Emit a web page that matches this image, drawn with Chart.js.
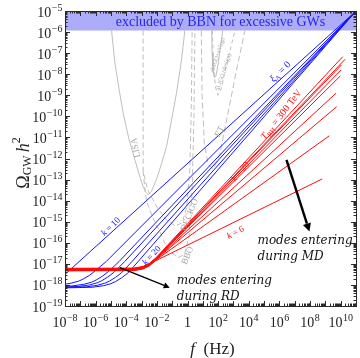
<!DOCTYPE html>
<html>
<head>
<meta charset="utf-8">
<script src="https://cdn.jsdelivr.net/npm/chart.js@4.4.0/dist/chart.umd.min.js"></script>
<style>
  html, body { margin: 0; padding: 0; background: #fff; }
</style>
</head>
<body>
<canvas id="c" width="360" height="358"></canvas>
<script>
// all points are [log10(f / Hz), log10(Omega_GW h^2)]
const xTickExps = [-8, -6, -4, -2, 0, 2, 4, 6, 8, 10];
const yTickExps = [-19, -18, -17, -16, -15, -14, -13, -12, -11, -10, -9, -8, -7, -6, -5];

// BBN bound (lower edge of the shaded band)
const bbnBound = [[-8, -5.93], [11, -5.93]];

// blue: xi_Lambda = 0, k = 10 ... 20
const blueK10 = [[-8, -17.5], [11, -5]];
const blueK12 = [[-8, -17.965], [-7.61, -17.92], [-7.11, -17.82], [-6.81, -17.72], [-6.41, -17.55], [-6.01, -17.32], [-5.31, -16.89], [11, -5]];
const blueK14 = [[-8, -18.07], [-7.47, -18.04], [-6.77, -17.97], [-6.27, -17.87], [-5.97, -17.77], [-5.57, -17.59], [-5.17, -17.37], [-4.47, -16.89], [11, -5]];
const blueK16 = [[-8, -18.10], [-7.1, -18.07], [-6.4, -18.0], [-5.9, -17.9], [-5.6, -17.8], [-5.2, -17.62], [-4.8, -17.40], [-4.1, -16.89], [11, -5]];
const blueK18 = [[-8, -18.12], [-6.6, -18.09], [-5.9, -18.02], [-5.4, -17.92], [-5.1, -17.82], [-4.7, -17.64], [-4.3, -17.42], [-3.6, -16.87], [11, -5]];
const blueK20 = [[-8, -18.14], [-6.2, -18.11], [-5.5, -18.04], [-5.0, -17.94], [-4.7, -17.84], [-4.3, -17.66], [-3.9, -17.44], [-3.2, -16.87], [11, -5]];

// red: T_RH = 300 TeV, k = 20 ... 6
const redK20 = [[-8, -17.21], [-3.5, -17.20], [-2.9, -17.12], [-2.5, -16.98], [-2.1, -16.74], [10.13, -7.17]];
const redK18 = [[-8, -17.23], [-3.5, -17.22], [-2.9, -17.14], [-2.5, -17.0], [-2.1, -16.76], [10.29, -7.29]];
const redK16 = [[-8, -17.24], [-3.5, -17.23], [-2.9, -17.15], [-2.5, -17.01], [-2.1, -16.77], [10.05, -7.56]];
const redK14 = [[-8, -17.26], [-3.5, -17.25], [-2.9, -17.17], [-2.5, -17.02], [-2.1, -16.78], [10.03, -7.80]];
const redK12 = [[-8, -17.27], [-3.5, -17.26], [-2.9, -17.18], [-2.5, -17.03], [-2.1, -16.79], [9.98, -8.08]];
const redK10 = [[-8, -17.29], [-3.5, -17.28], [-2.9, -17.2], [-2.5, -17.05], [-2.1, -16.81], [9.70, -8.90]];
const redK9 = [[-8, -17.30], [-3.5, -17.29], [-2.9, -17.21], [-2.5, -17.06], [-2.1, -16.82], [9.74, -9.54]];
const redK8 = [[-8, -17.32], [-3.5, -17.31], [-2.9, -17.23], [-2.5, -17.08], [-2.1, -16.84], [9.26, -10.92]];
const redK6 = [[-8, -17.33], [-3.5, -17.32], [-2.9, -17.24], [-2.5, -17.1], [-2.1, -16.86], [8.79, -12.97]];

// detector sensitivity curves
const lisa = [[-4.96, -5.93], [-4.74, -7.48], [-4.45, -8.8], [-4.2, -9.85], [-3.85, -11.0], [-3.44, -12.06], [-3.1, -12.9], [-2.9, -13.33], [-2.72, -13.6], [-2.57, -13.72], [-2.35, -13.55], [-2.03, -13.0], [-1.7, -12.25], [-1.37, -11.43], [-1.05, -10.2], [-0.72, -8.9], [-0.45, -7.6], [-0.29, -6.69], [-0.18, -5.93]];
const decigo = [[-2.9, -5.93], [-2.9, -12.6], [-2.6, -13.5], [-2.0, -14.3], [-1.4, -14.9], [-0.8, -15.2], [-0.35, -15.05], [-0.05, -14.3], [0.15, -12.5], [0.25, -9.5], [0.3, -5.93]];
const bbo = [[-2.9, -12.6], [-2.75, -13.7], [-2.59, -14.19], [-2.27, -14.81], [-1.81, -15.47], [-1.49, -16.0], [-1.1, -16.45], [-0.6, -16.7], [-0.2, -16.55], [0.1, -15.7], [0.3, -13.5], [0.42, -10], [0.48, -5.93]];
const et = [[0.9, -5.93], [0.95, -9.0], [1.1, -11.3], [1.35, -12.3], [1.7, -12.5], [2.1, -11.8], [2.6, -10.0], [3.2, -7.8], [3.75, -5.93]];
const aligoVirgo = [[1.58, -5.93], [1.6, -7.0], [1.66, -7.8], [1.75, -8.15], [1.85, -8.1], [1.98, -7.6], [2.15, -6.7], [2.3, -5.93]];
const aligoDesign = [[1.62, -5.93], [1.7, -7.6], [1.82, -8.6], [1.98, -9.0], [2.2, -8.7], [2.5, -7.7], [2.9, -6.5], [3.1, -5.93]];

const BLUE = 'rgb(20,20,255)';
const RED = 'rgb(255,10,10)';
const GRAY = 'rgb(190,190,190)';

const pts = arr => arr.map(p => ({ x: Math.pow(10, p[0]), y: Math.pow(10, p[1]) }));

function curve(arr, color, order, dash) {
    return {
        data: pts(arr),
        showLine: true,
        borderColor: color,
        borderWidth: 1,
        borderDash: dash || [],
        pointRadius: 0,
        fill: false,
        tension: 0,
        order: order
    };
}

const datasets = [];
[redK20, redK18, redK16, redK14, redK12, redK10, redK9, redK8, redK6].forEach(a => datasets.push(curve(a, RED, 0)));
[blueK10, blueK12, blueK14, blueK16, blueK18, blueK20].forEach(a => datasets.push(curve(a, BLUE, 1)));
datasets.push({
    data: pts(bbnBound), showLine: true, borderWidth: 0, pointRadius: 0,
    fill: 'end', backgroundColor: 'rgb(172,172,250)', order: 2
});
datasets.push(curve(lisa, GRAY, 3));
datasets.push(curve(decigo, GRAY, 3, [5, 3]));
datasets.push(curve(bbo, GRAY, 3, [5, 3]));
datasets.push(curve(et, GRAY, 3, [6, 3]));
datasets.push(curve(aligoVirgo, GRAY, 3));
datasets.push(curve(aligoDesign, GRAY, 3, [4, 3]));

// text labels: [parts, logf, logOmega, rotation deg, color]
const SERIF = '"Liberation Serif", "DejaVu Serif", serif';
const curveLabels = [
    [[['LISA', 9]], -3.37, -11.49, -102, 'rgb(165,165,165)'],
    [[['DECIGO', 9]], 0.14, -14.67, -68, 'rgb(165,165,165)'],
    [[['BBO', 9]], 0.01, -16.61, -68, 'rgb(165,165,165)'],
    [[['ET', 9]], 2.1, -10.73, -62, 'rgb(165,165,165)'],
    [[['aLIGO+aVirgo', 6]], 1.97, -7.09, -72, 'rgb(165,165,165)'],
    [[['aLIGO (design)', 6]], 2.36, -7.89, -72, 'rgb(165,165,165)'],
    [[['k', 9, 'italic'], [' = 10', 9]], -5.0, -15.24, -44, BLUE],
    [[['k', 9, 'italic'], [' = 20', 9]], -2.33, -16.61, -47, BLUE],
    [[['\u03be', 10, 'italic'], ['\u039b', 7, '', 3], [' = 0', 10]], 6.07, -7.89, -45, BLUE],
    [[['T', 10, 'italic'], ['RH', 7, '', 3], [' = 300 TeV', 10]], 6.14, -9.93, -52, RED],
    [[['k', 9, 'italic'], [' = 20', 9]], 3.47, -12.63, -50, RED],
    [[['k', 9, 'italic'], [' = 6', 9]], 3.14, -15.52, -28, RED]
];

const notes = [
    ['modes entering', 4.57, -16.04],
    ['during MD', 4.57, -16.80],
    ['modes entering', -0.70, -17.94],
    ['during RD', -0.70, -18.70]
];
const arrows = [
    [[-4.42, -17.18], [-1.16, -18.13], 1.4],
    [[6.46, -12.06], [7.96, -15.47], 2.4]
];

function richWidth(ctx, parts) {
    let w = 0;
    parts.forEach(p => { ctx.font = (p[2] || '') + ' ' + p[1] + 'px ' + SERIF; w += ctx.measureText(p[0]).width; });
    return w;
}
function drawRich(ctx, parts, x, y, rot, color) {
    ctx.save();
    ctx.translate(x, y);
    ctx.rotate(rot * Math.PI / 180);
    ctx.fillStyle = color;
    ctx.textBaseline = 'middle';
    ctx.textAlign = 'left';
    let cx = -richWidth(ctx, parts) / 2;
    parts.forEach(p => {
        ctx.font = (p[2] || '') + ' ' + p[1] + 'px ' + SERIF;
        ctx.fillText(p[0], cx, p[3] || 0);
        cx += ctx.measureText(p[0]).width;
    });
    ctx.restore();
}
function powLabel(ctx, e, x, yBase, align) {
    ctx.textAlign = 'left';
    ctx.textBaseline = 'alphabetic';
    ctx.fillStyle = '#222';
    if (e === 0) {
        ctx.font = '14px ' + SERIF;
        const w1 = ctx.measureText('1').width;
        ctx.fillText('1', align === 'right' ? x - w1 : x - w1 / 2, yBase);
        return;
    }
    const sup = e < 0 ? '\u2212' + (-e) : String(e);
    ctx.font = '14px ' + SERIF;
    const wb = ctx.measureText('10').width;
    ctx.font = '10px ' + SERIF;
    const ws = ctx.measureText(sup).width;
    const w = wb + ws + 0.5;
    const x0 = align === 'right' ? x - w : x - w / 2;
    ctx.font = '14px ' + SERIF;
    ctx.fillText('10', x0, yBase);
    ctx.font = '10px ' + SERIF;
    ctx.fillText(sup, x0 + wb + 0.5, yBase - 6);
}

const decor = {
    id: 'decor',
    afterDraw(chart) {
        const ctx = chart.ctx, xs = chart.scales.x, ys = chart.scales.y, a = chart.chartArea;
        const px = l => xs.getPixelForValue(Math.pow(10, l));
        const py = m => ys.getPixelForValue(Math.pow(10, m));

        // BBN text
        ctx.save();
        ctx.fillStyle = 'rgb(40,40,225)';
        ctx.font = '14px ' + SERIF;
        ctx.textAlign = 'center';
        ctx.textBaseline = 'alphabetic';
        ctx.fillText('excluded by BBN for excessive GWs', (a.left + a.right) / 2 + 10, a.top + 15);
        ctx.restore();

        curveLabels.forEach(c => drawRich(ctx, c[0], px(c[1]), py(c[2]), c[3], c[4]));

        // annotations
        ctx.save();
        ctx.fillStyle = '#111';
        ctx.font = 'italic 12px "DejaVu Serif", serif';
        ctx.textAlign = 'left';
        ctx.textBaseline = 'alphabetic';
        notes.forEach(n => ctx.fillText(n[0], px(n[1]), py(n[2])));
        arrows.forEach(ar => {
            const x1 = px(ar[0][0]), y1 = py(ar[0][1]), x2 = px(ar[1][0]), y2 = py(ar[1][1]);
            const ang = Math.atan2(y2 - y1, x2 - x1), hl = 3 + ar[2] * 2.2, hw = 1.5 + ar[2] * 1.1;
            ctx.strokeStyle = '#000';
            ctx.lineWidth = ar[2];
            ctx.beginPath();
            ctx.moveTo(x1, y1);
            ctx.lineTo(x2 - hl * Math.cos(ang), y2 - hl * Math.sin(ang));
            ctx.stroke();
            ctx.beginPath();
            ctx.moveTo(x2, y2);
            ctx.lineTo(x2 - hl * Math.cos(ang) + hw * Math.sin(ang), y2 - hl * Math.sin(ang) - hw * Math.cos(ang));
            ctx.lineTo(x2 - hl * Math.cos(ang) - hw * Math.sin(ang), y2 - hl * Math.sin(ang) + hw * Math.cos(ang));
            ctx.closePath();
            ctx.fillStyle = '#000';
            ctx.fill();
        });
        ctx.restore();

        // frame and ticks
        ctx.save();
        ctx.strokeStyle = '#2a2a2a';
        ctx.lineWidth = 1;
        ctx.strokeRect(Math.round(a.left) + 0.5, Math.round(a.top) + 0.5, Math.round(a.right - a.left), Math.round(a.bottom - a.top));
        ctx.beginPath();
        for (let e = -8; e <= 11; e++) {
            for (let m = 1; m <= 9; m++) {
                const v = m * Math.pow(10, e);
                if (v > 1.0001e11) break;
                const x = Math.round(xs.getPixelForValue(v)) + 0.5, len = m === 1 ? 5 : 2.5;
                ctx.moveTo(x, a.bottom); ctx.lineTo(x, a.bottom - len);
                ctx.moveTo(x, a.top); ctx.lineTo(x, a.top + len);
            }
        }
        for (let e = -19; e <= -5; e++) {
            for (let m = 1; m <= 9; m++) {
                const v = m * Math.pow(10, e);
                if (v > 1.0001e-5) break;
                const y = Math.round(ys.getPixelForValue(v)) + 0.5, len = m === 1 ? 5 : 2.5;
                ctx.moveTo(a.left, y); ctx.lineTo(a.left + len, y);
                ctx.moveTo(a.right, y); ctx.lineTo(a.right - len, y);
            }
        }
        ctx.stroke();
        ctx.restore();

        // tick labels
        ctx.save();
        xTickExps.forEach(e => powLabel(ctx, e, px(e), a.bottom + 21, 'center'));
        yTickExps.forEach(e => powLabel(ctx, e, a.left - 2.5, py(e) + 5.5, 'right'));
        ctx.restore();

        // axis titles
        drawRich(ctx, [['f', 17, 'italic'], ['  (Hz)', 17]], (a.left + a.right) / 2 + 2, 350, 0, '#222');
        drawRich(ctx, [['\u03a9', 18], ['GW', 12, '', 4], [' ', 12], ['h', 18, 'italic'], ['2', 12, '', -7]], 24, 163, -90, '#222');
    }
};

new Chart(document.getElementById('c'), {
    type: 'scatter',
    data: { datasets: datasets },
    options: {
        responsive: false,
        animation: false,
        layout: { padding: { left: 65, right: 4, top: 11, bottom: 52 } },
        plugins: { legend: { display: false }, tooltip: { enabled: false } },
        scales: {
            x: { type: 'logarithmic', min: 1e-8, max: 1e11, display: false },
            y: { type: 'logarithmic', min: 1e-19, max: 1e-5, display: false }
        }
    },
    plugins: [decor]
});
</script>
</body>
</html>
